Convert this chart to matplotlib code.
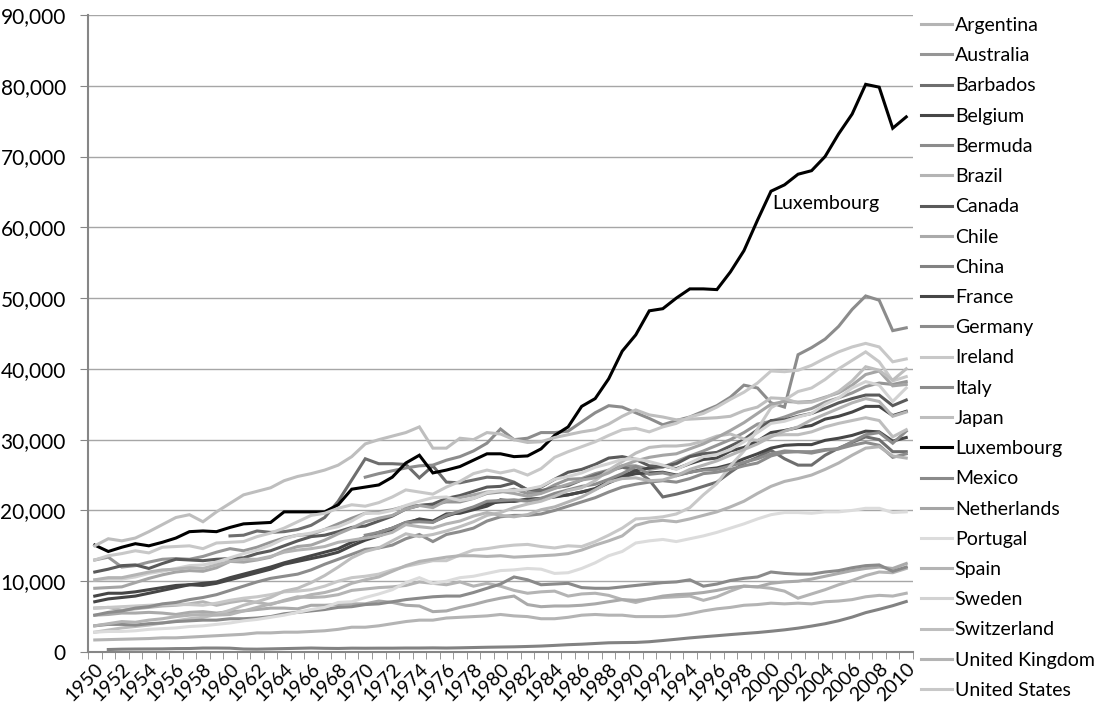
import numpy as np
import matplotlib.pyplot as plt
from matplotlib.ticker import FuncFormatter, MultipleLocator

plt.rcParams['font.family'] = ['Lato', 'DejaVu Sans']

years = list(range(1950, 2011))
NA = np.nan

# GDP per capita, one value per year 1950..2010 (NA = no data)
argentina = [6200, 6300, 5900, 6100, 6300, 6500, 6600, 6800, 7100, 6600,
             7000, 7300, 7000, 6700, 7300, 7800, 7700, 7800, 8100, 8700,
             8900, 9100, 9200, 9400, 9900, 9700, 9500, 9900, 9300, 9700,
             9300, 8700, 8300, 8500, 8600, 7900, 8200, 8300, 8000, 7400,
             7000, 7500, 7700, 7800, 7900, 7300, 7800, 8600, 9300, 9200,
             9000, 8600, 7600, 8200, 8800, 9500, 10100, 10800, 11300, 11200,
             11800]
australia = [13000, 13400, 12000, 12200, 12700, 13100, 13200, 13100, 13500, 14100,
             14600, 14300, 14800, 15500, 16100, 16500, 16600, 17300, 18100, 18900,
             19600, 19800, 20100, 20600, 20700, 20800, 21200, 21200, 21700, 22400,
             22600, 23000, 22400, 22600, 23600, 24400, 24500, 25200, 25700, 26300,
             26300, 25800, 26100, 26900, 27700, 28400, 29200, 30000, 31000, 32200,
             32600, 33200, 33900, 34400, 35300, 35900, 36600, 37500, 38000, 37800,
             38200]
barbados = [NA] * 10 + [
             16400, 16500, 17100, 16900, 17000, 17300, 17900, 19000, 21300, 24300,
             27300, 26600, 26600, 26500, 24600, 26300, 24000, 23900, 24300, 24700,
             24600, 24000, 22900, 22800, 23200, 23500, 24300, 25000, 25600, 26100,
             25700, 24300, 21900, 22300, 22800, 23400, 24000, 25400, 26700, 27500,
             28500, 27300, 26400, 26400, 27800, 28800, 29600, 30400, 30000, 28300,
             28300]
belgium = [7900, 8300, 8300, 8500, 8800, 9100, 9400, 9500, 9400, 9700,
           10200, 10700, 11200, 11700, 12400, 12800, 13200, 13600, 14100, 15000,
           15800, 16400, 17100, 18100, 18800, 18500, 19500, 19600, 20100, 20600,
           21500, 21300, 21500, 21500, 22000, 22200, 22600, 23100, 24100, 24900,
           25600, 26000, 26300, 25900, 26600, 27200, 27400, 28400, 28900, 29800,
           31000, 31300, 31700, 32000, 32900, 33300, 33900, 34700, 34700, 33400,
           34000]
bermuda = [NA] * 20 + [
           24700, 25200, 25600, 26000, 26300, 26400, 27100, 27600, 28400, 29500,
           31500, 30000, 30200, 31000, 31000, 31200, 32500, 33800, 34800, 34600,
           33800, 33000, 32100, 32700, 33200, 34000, 34800, 36000, 37700, 37300,
           35200, 34600, 42000, 43000, 44200, 46000, 48400, 50300, 49700, 45400,
           45800]
brazil = [1700, 1750, 1800, 1850, 1900, 2000, 2000, 2100, 2200, 2300,
          2400, 2500, 2700, 2700, 2800, 2800, 2900, 3000, 3200, 3500,
          3500, 3700, 4000, 4300, 4500, 4500, 4800, 4900, 5000, 5100,
          5300, 5100, 5000, 4700, 4700, 4900, 5200, 5300, 5200, 5200,
          5000, 5000, 5000, 5100, 5400, 5800, 6100, 6300, 6600, 6700,
          6900, 6800, 6900, 6800, 7100, 7200, 7400, 7800, 8000, 7900,
          8300]
canada = [11300, 11700, 12200, 12300, 11800, 12500, 13100, 13000, 12900, 13100,
          13200, 13300, 13900, 14300, 15000, 15700, 16300, 16500, 17000, 17600,
          17800, 18500, 19200, 20200, 20700, 20900, 21700, 22100, 22700, 23300,
          23400, 23900, 22900, 23300, 24400, 25400, 25800, 26500, 27400, 27600,
          27200, 26300, 26200, 26600, 27600, 28000, 28200, 29100, 30000, 31400,
          32700, 32800, 33300, 33700, 34400, 35200, 35800, 36300, 36300, 34800,
          35600]
chile = [5200, 5300, 5500, 5500, 5600, 5500, 5300, 5600, 5700, 5500,
         5700, 5800, 6000, 6200, 6200, 6100, 6600, 6600, 6700, 6800,
         6800, 7200, 7000, 6600, 6500, 5700, 5800, 6300, 6700, 7200,
         7600, 7900, 6700, 6400, 6500, 6500, 6600, 6800, 7100, 7400,
         7300, 7500, 7900, 8100, 8200, 8400, 8700, 9100, 9300, 9200,
         9700, 9900, 10000, 10300, 10700, 11100, 11500, 11800, 12000, 11800,
         12500]
china = [NA, 350, 400, 420, 430, 440, 480, 490, 560, 560,
         540, 420, 400, 440, 480, 520, 560, 520, 500, 540,
         530, 540, 540, 560, 560, 580, 560, 590, 630, 670,
         700, 730, 780, 840, 930, 1030, 1100, 1200, 1300, 1330,
         1350, 1450, 1620, 1800, 1990, 2150, 2300, 2460, 2610, 2750,
         2930, 3130, 3370, 3660, 3990, 4410, 4930, 5560, 6030, 6540,
         7130]
france = [7100, 7500, 7700, 7900, 8300, 8700, 9100, 9500, 9700, 9900,
          10500, 11000, 11500, 12000, 12600, 13100, 13600, 14100, 14600, 15500,
          16200, 16900, 17500, 18300, 18700, 18400, 19200, 19800, 20400, 21000,
          21200, 21300, 21600, 21700, 21900, 22200, 22600, 23000, 23900, 24700,
          25200, 25300, 25400, 25000, 25400, 25800, 26000, 26500, 27300, 28000,
          28800, 29200, 29300, 29300, 29900, 30200, 30600, 31200, 31100, 29800,
          30300]
germany = [NA] * 20 + [
           16500, 16900, 17500, 18300, 18400, 18300, 19300, 19900, 20500, 21300,
           21400, 21500, 21300, 21700, 22400, 22900, 23400, 23700, 24400, 25200,
           26200, 25100, 25300, 24900, 25400, 25700, 25800, 26300, 26800, 27300,
           28000, 28400, 28300, 28100, 28500, 28700, 29700, 30700, 31000, 29500,
           31200]
ireland = [6200, 6300, 6400, 6500, 6600, 6700, 6700, 6700, 6600, 6900,
           7300, 7600, 7800, 8100, 8500, 8600, 8800, 9300, 10000, 10500,
           10700, 11000, 11600, 12100, 12500, 12900, 12900, 13700, 14400, 14600,
           14900, 15100, 15200, 14900, 14700, 15000, 14900, 15600, 16500, 17500,
           18800, 18900, 19100, 19500, 20400, 22200, 23800, 26300, 28400, 31500,
           34500, 35600, 36800, 37300, 38500, 40000, 41200, 42400, 41000, 38300,
           38900]
italy = [5200, 5600, 5800, 6200, 6400, 6800, 7000, 7400, 7700, 8100,
         8700, 9300, 9900, 10400, 10700, 11000, 11600, 12400, 13100, 13800,
         14500, 14700, 15100, 16000, 16600, 15600, 16600, 17000, 17500, 18500,
         19100, 19300, 19300, 19500, 20000, 20600, 21200, 21800, 22600, 23300,
         23700, 24000, 24200, 24000, 24500, 25200, 25400, 25800, 26300, 26700,
         27700, 28200, 28300, 28300, 28600, 28700, 29200, 29600, 29200, 27500,
         28000]
japan = [2800, 3100, 3400, 3600, 3800, 4100, 4400, 4700, 4900, 5300,
         5900, 6600, 7100, 7700, 8600, 9000, 9800, 10800, 12000, 13300,
         14200, 14700, 15700, 16700, 16300, 16600, 17100, 17700, 18400, 19300,
         19700, 20400, 20900, 21300, 22000, 22800, 23200, 24200, 25700, 26900,
         28100, 28900, 29100, 29100, 29300, 29800, 30500, 30800, 30100, 29900,
         30600, 30700, 30700, 31100, 31800, 32300, 32700, 33100, 32700, 30400,
         31400]
luxembourg = [15100, 14200, 14800, 15300, 15000, 15500, 16100, 17000, 17100, 17000,
              17600, 18100, 18200, 18300, 19800, 19800, 19800, 19800, 20800, 23000,
              23300, 23600, 24700, 26700, 27800, 25300, 25700, 26200, 27100, 28000,
              28000, 27600, 27700, 28700, 30600, 31800, 34700, 35800, 38600, 42500,
              44800, 48200, 48500, 50000, 51300, 51300, 51200, 53700, 56700, 61000,
              65100, 66000, 67500, 68000, 70000, 73200, 76000, 80200, 79800, 74000,
              75600]
mexico = [3700, 3900, 3900, 3800, 4000, 4100, 4300, 4400, 4500, 4500,
          4700, 4700, 4800, 5000, 5400, 5600, 5800, 6000, 6300, 6400,
          6700, 6800, 7100, 7400, 7600, 7800, 7900, 7900, 8400, 9000,
          9600, 10600, 10200, 9500, 9600, 9700, 9100, 9000, 9000, 9200,
          9400, 9600, 9800, 9900, 10200, 9300, 9600, 10100, 10400, 10600,
          11300, 11100, 11000, 11000, 11300, 11500, 11900, 12200, 12300, 11400,
          12000]
netherlands = [9000, 9100, 9200, 9800, 10400, 10900, 11300, 11500, 11400, 11900,
               12800, 12700, 13000, 13400, 14300, 14900, 15100, 15800, 16700, 17500,
               18400, 18900, 19300, 20200, 20700, 20400, 21400, 21800, 22200, 22600,
               22700, 22400, 22000, 22400, 23100, 23700, 24300, 24600, 25300, 26300,
               27000, 27500, 27800, 28000, 28700, 29400, 30300, 31300, 32400, 33700,
               35000, 35400, 35300, 35400, 36000, 36600, 37700, 39200, 39700, 37600,
               37800]
portugal = [2800, 2900, 2900, 3000, 3200, 3300, 3400, 3600, 3700, 3900,
            4100, 4400, 4600, 4900, 5200, 5600, 6000, 6300, 7000, 7100,
            7700, 8200, 8800, 9800, 10500, 9700, 10000, 10500, 10700, 11100,
            11500, 11600, 11800, 11700, 11100, 11200, 11800, 12600, 13600, 14200,
            15400, 15700, 15900, 15600, 16000, 16400, 16900, 17500, 18100, 18800,
            19400, 19700, 19700, 19600, 19800, 19800, 20000, 20300, 20300, 19700,
            19800]
spain = [3700, 4000, 4300, 4200, 4500, 4700, 5000, 5200, 5300, 5200,
         5300, 5800, 6300, 6800, 7200, 7600, 8100, 8400, 8900, 9700,
         10200, 10600, 11400, 12200, 12800, 13100, 13400, 13600, 13600, 13500,
         13600, 13400, 13500, 13600, 13700, 13900, 14400, 15100, 15700, 16400,
         17900, 18400, 18600, 18400, 18800, 19300, 19800, 20500, 21300, 22400,
         23400, 24100, 24500, 25000, 25800, 26700, 27800, 28800, 29000, 27700,
         27400]
sweden = [10200, 10300, 10300, 10600, 11100, 11400, 11800, 12200, 12300, 12700,
          13300, 13900, 14400, 15100, 16000, 16500, 16800, 17300, 17700, 18500,
          19600, 19600, 20000, 20700, 21300, 21800, 21900, 21400, 21700, 22500,
          22800, 22800, 23000, 23400, 24400, 24800, 25300, 26100, 26600, 27200,
          27300, 26900, 26400, 25800, 26700, 27600, 27900, 28600, 29700, 31000,
          32300, 32600, 33200, 33700, 35000, 35900, 37300, 38200, 37700, 35400,
          37300]
switzerland = [15000, 16000, 15700, 16100, 17000, 18000, 19000, 19400, 18400, 19800,
               21000, 22200, 22700, 23200, 24200, 24800, 25200, 25700, 26400, 27600,
               29400, 30000, 30500, 31000, 31800, 28800, 28800, 30200, 30000, 31000,
               30800, 30000, 29600, 29700, 30300, 30700, 31100, 31400, 32200, 33300,
               34200, 33500, 33200, 32800, 32900, 33000, 33100, 33300, 34100, 34600,
               35900, 35800, 35200, 35300, 35900, 36800, 38300, 40300, 39800, 38400,
               40000]
united_kingdom = [10200, 10500, 10500, 10900, 11300, 11600, 11700, 11900, 11800, 12300,
                  12800, 13100, 13100, 13500, 14100, 14400, 14600, 14900, 15500, 15800,
                  16100, 16400, 16900, 18000, 17700, 17500, 18100, 18500, 19200, 19700,
                  19300, 19100, 19400, 20100, 20500, 21200, 21900, 22900, 24000, 24500,
                  24600, 24200, 24300, 24900, 25800, 26400, 27000, 27800, 28600, 29400,
                  30400, 31200, 31800, 32800, 33600, 34400, 35200, 35800, 35400, 33300,
                  33900]
united_states = [13000, 13600, 13900, 14300, 14000, 14800, 14900, 15000, 14600, 15400,
                 15500, 15600, 16300, 16800, 17500, 18400, 19300, 19600, 20300, 20800,
                 20600, 21100, 21900, 22900, 22600, 22300, 23300, 24100, 25200, 25700,
                 25300, 25700, 25000, 25900, 27500, 28300, 29000, 29700, 30600, 31400,
                 31600, 31100, 31800, 32300, 33200, 33700, 34600, 35700, 36700, 38000,
                 39700, 39600, 39800, 40500, 41500, 42400, 43100, 43600, 43100, 41000,
                 41400]

countries = ['Argentina', 'Australia', 'Barbados', 'Belgium', 'Bermuda', 'Brazil',
             'Canada', 'Chile', 'China', 'France', 'Germany', 'Ireland', 'Italy',
             'Japan', 'Luxembourg', 'Mexico', 'Netherlands', 'Portugal', 'Spain',
             'Sweden', 'Switzerland', 'United Kingdom', 'United States']
series = [argentina, australia, barbados, belgium, bermuda, brazil, canada, chile,
          china, france, germany, ireland, italy, japan, luxembourg, mexico,
          netherlands, portugal, spain, sweden, switzerland, united_kingdom,
          united_states]
colors = ['#b4b4b4', '#969696', '#6e6e6e', '#464646', '#8c8c8c', '#b4b4b4',
          '#5a5a5a', '#aaaaaa', '#828282', '#464646', '#8c8c8c', '#c8c8c8',
          '#8c8c8c', '#bebebe', '#000000', '#8a8a8a', '#a5a5a5', '#dcdcdc',
          '#b4b4b4', '#d2d2d2', '#bebebe', '#b4b4b4', '#c8c8c8']

fig = plt.figure(figsize=(11, 7.06), dpi=100)
ax = fig.add_axes([0.08, 0.0765, 0.75, 0.9023])

for name, vals, c in zip(countries, series, colors):
    ax.plot(years, vals, color=c, lw=2.2, label=name, solid_joinstyle='miter')

ax.text(2000.1, 63300, 'Luxembourg', fontsize=14, va='center', ha='left')

ax.set_xlim(1949.5, 2010.5)
ax.set_ylim(0, 90000)
ax.yaxis.set_major_locator(MultipleLocator(10000))
ax.yaxis.set_major_formatter(FuncFormatter(lambda v, p: f'{int(v):,}'))
ax.grid(axis='y', color='#a6a6a6', lw=1)
ax.set_axisbelow(True)

ax.set_xticks(years[::2])
ax.set_xticklabels([str(y) for y in years[::2]], rotation=45, ha='right',
                   rotation_mode='anchor', fontsize=14)
ax.set_xticks([y - 0.5 for y in years] + [2010.5], minor=True)
ax.tick_params(axis='x', which='major', length=0, pad=6)
ax.tick_params(axis='x', which='minor', length=5, color='#868686', direction='out')
ax.tick_params(axis='y', length=6, color='#868686', labelsize=15, pad=10)

for s in ['top', 'right']:
    ax.spines[s].set_visible(False)
for s in ['left', 'bottom']:
    ax.spines[s].set_color('#868686')
    ax.spines[s].set_linewidth(1.5)

ax.legend(loc='upper left', bbox_to_anchor=(1.0, 1.009), frameon=False,
          fontsize=14, handlelength=1.6, handletextpad=0.15,
          labelspacing=0.68, borderaxespad=0)

fig.savefig('out.png', dpi=100)
